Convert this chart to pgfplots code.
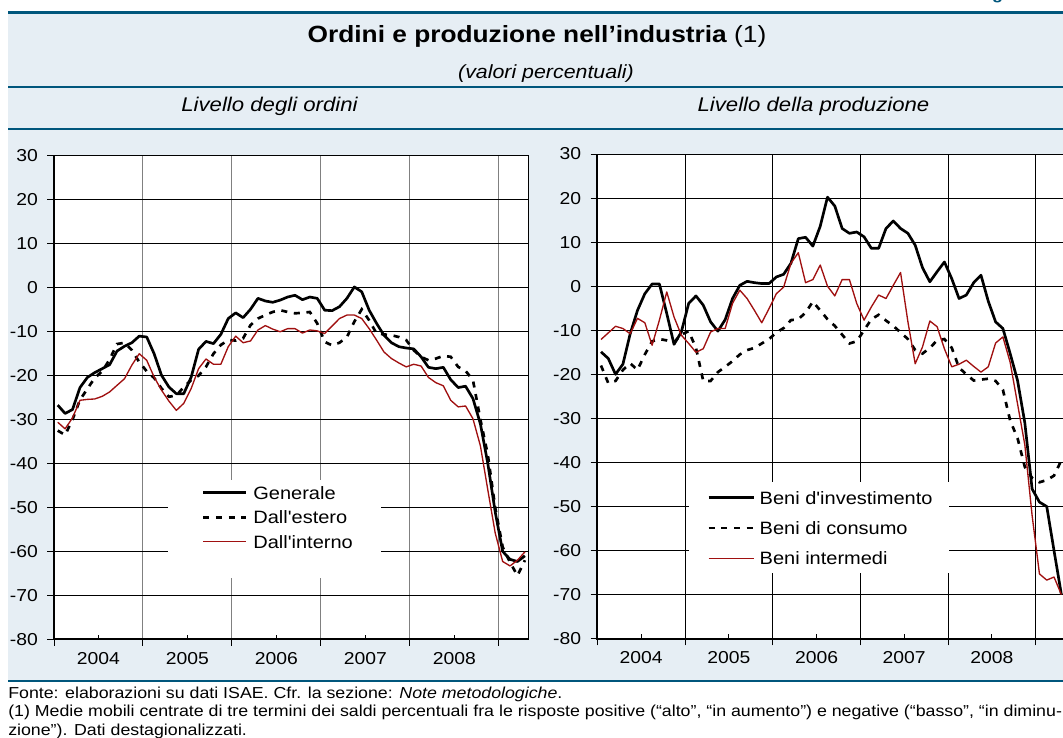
\documentclass[border=0pt]{standalone}
\usepackage{fontspec}
\setmainfont{Liberation Sans}
\usepackage{pgfplots}
\pgfplotsset{compat=1.18}
\usepackage{pgfplotstable}
\definecolor{tealb}{RGB}{0,86,124}
\definecolor{bgblue}{RGB}{230,238,244}
\definecolor{dred}{RGB}{160,16,16}
\newcommand{\hs}[1]{\scalebox{1.12}[1]{#1}}
\newcommand{\fs}[1]{\fontsize{#1}{#1}\selectfont}

\pgfplotstableread{
x g e d
2004.042 -26.7 -32.5 -30.6
2004.125 -28.6 -33.5 -32.1
2004.208 -27.7 -30.0 -29.6
2004.292 -22.7 -25.5 -25.6
2004.375 -20.4 -23.0 -25.4
2004.458 -19.3 -20.5 -25.3
2004.542 -18.4 -19.0 -24.7
2004.625 -17.5 -16.3 -23.7
2004.708 -14.4 -12.8 -22.2
2004.792 -13.3 -12.5 -20.7
2004.875 -12.5 -14.2 -17.6
2004.958 -11.0 -16.9 -15.0
2005.042 -11.2 -19.0 -16.5
2005.125 -15.0 -20.5 -20.3
2005.208 -19.9 -22.9 -23.3
2005.292 -22.6 -24.8 -25.8
2005.375 -24.1 -24.5 -27.9
2005.458 -24.1 -22.6 -26.3
2005.542 -20.3 -21.0 -22.9
2005.625 -14.0 -20.0 -18.4
2005.708 -12.2 -18.0 -16.2
2005.792 -12.7 -15.0 -17.4
2005.875 -10.6 -13.0 -17.4
2005.958 -7.0 -11.9 -13.4
2006.042 -5.7 -12.0 -11.0
2006.125 -6.8 -11.5 -12.5
2006.208 -4.9 -8.5 -12.1
2006.292 -2.4 -7.0 -9.6
2006.375 -3.0 -6.2 -8.6
2006.458 -3.3 -5.5 -9.4
2006.542 -2.8 -5.1 -10.0
2006.625 -2.1 -5.5 -9.3
2006.708 -1.7 -5.8 -9.3
2006.792 -2.7 -5.7 -10.3
2006.875 -2.1 -5.5 -9.6
2006.958 -2.4 -8.1 -9.8
2007.042 -5.1 -12.3 -10.4
2007.125 -5.2 -13.1 -8.7
2007.208 -4.3 -12.5 -7.0
2007.292 -2.4 -11.2 -6.2
2007.375 0.2 -7.7 -6.2
2007.458 -0.9 -4.9 -7.0
2007.542 -5.1 -7.4 -9.3
2007.625 -8.1 -10.4 -11.9
2007.708 -10.8 -10.6 -14.6
2007.792 -12.5 -10.8 -16.1
2007.875 -13.4 -11.2 -17.1
2007.958 -13.7 -11.9 -18.0
2008.042 -13.9 -14.2 -17.4
2008.125 -15.7 -15.7 -17.8
2008.208 -18.1 -16.5 -20.4
2008.292 -18.4 -16.1 -21.6
2008.375 -18.1 -15.5 -22.3
2008.458 -20.9 -15.7 -25.6
2008.542 -22.7 -18.0 -27.1
2008.625 -22.4 -18.9 -26.9
2008.708 -25.2 -21.0 -29.8
2008.792 -31.0 -30.0 -36.0
2008.875 -40.0 -38.0 -46.0
2008.958 -51.0 -50.0 -55.8
2009.042 -60.0 -59.0 -62.3
2009.125 -61.8 -62.5 -63.3
2009.208 -62.3 -65.5 -62.0
2009.292 -61.0 -62.0 -60.1
}\tabordini

\pgfplotstableread{
x inv cons int
2004.042 -14.9 -18.0 -12.1
2004.125 -16.4 -22.0 -10.6
2004.208 -20.0 -21.5 -9.1
2004.292 -17.7 -19.0 -9.6
2004.375 -10.8 -17.5 -10.8
2004.458 -5.5 -19.0 -7.3
2004.542 -1.7 -15.5 -8.3
2004.625 0.5 -12.5 -13.4
2004.708 0.5 -12.0 -7.7
2004.792 -6.2 -12.3 -1.3
2004.875 -13.2 -12.7 -7.0
2004.958 -10.4 -11.0 -11.1
2005.042 -3.9 -10.2 -13.0
2005.125 -2.2 -14.0 -15.0
2005.208 -4.3 -21.5 -14.2
2005.292 -8.1 -21.5 -10.4
2005.375 -10.2 -19.5 -9.6
2005.458 -7.6 -18.3 -9.6
2005.542 -2.8 -17.0 -3.9
2005.625 0.2 -15.5 -0.9
2005.708 1.1 -14.5 -2.8
2005.792 0.8 -14.0 -5.5
2005.875 0.6 -13.0 -8.3
2005.958 0.6 -12.0 -5.1
2006.042 2.1 -10.5 -1.7
2006.125 2.7 -9.5 -0.2
2006.208 5.2 -7.7 5.2
2006.292 10.8 -7.5 7.6
2006.375 11.1 -6.0 0.8
2006.458 9.1 -3.5 1.5
2006.542 13.6 -5.5 4.8
2006.625 20.2 -7.5 0.0
2006.708 18.2 -9.0 -2.2
2006.792 13.1 -11.0 1.5
2006.875 12.0 -13.0 1.5
2006.958 12.3 -12.5 -3.9
2007.042 11.2 -10.0 -7.7
2007.125 8.6 -7.5 -4.7
2007.208 8.6 -6.5 -2.0
2007.292 13.1 -7.8 -2.8
2007.375 14.8 -9.0 0.2
2007.458 13.1 -10.5 3.1
2007.542 12.0 -12.0 -8.1
2007.625 9.3 -14.5 -17.6
2007.708 4.2 -15.3 -13.8
2007.792 1.0 -14.0 -7.9
2007.875 3.3 -12.3 -9.2
2007.958 5.5 -12.0 -14.2
2008.042 1.7 -14.0 -18.3
2008.125 -2.8 -18.5 -17.7
2008.208 -2.0 -20.0 -16.8
2008.292 0.8 -21.4 -18.2
2008.375 2.5 -21.2 -19.5
2008.458 -3.4 -21.0 -18.3
2008.542 -8.1 -21.5 -12.9
2008.625 -9.6 -23.5 -11.5
2008.708 -15.3 -30.5 -17.3
2008.792 -21.4 -34.5 -26.7
2008.875 -31.0 -41.0 -36.0
2008.958 -46.0 -43.5 -52.0
2009.042 -49.0 -44.5 -65.3
2009.125 -50.0 -44.0 -66.7
2009.208 -60.0 -43.0 -66.0
2009.292 -70.0 -39.5 -70.0
}\tabprod

\pgfplotsset{
  panel/.style={
    anchor=south west,
    scale only axis,
    xmin=2004, xmax=2009.3333, ymin=-80, ymax=30,
    clip=false,
    axis background/.style={fill=white},
    axis line style={black, line width=0.75pt},
    tick align=outside, major tick length=5pt,
    tick style={black, line width=0.75pt},
    xtick={2004,2005,2006,2007,2008,2009}, xticklabels={},
    extra x ticks={2004.5,2005.5,2006.5,2007.5,2008.5},
    extra x tick labels={\hs{2004},\hs{2005},\hs{2006},\hs{2007},\hs{2008}},
    extra x tick style={tick align=inside, major tick length=3.3pt, grid=none},
    ytick={-80,-70,-60,-50,-40,-30,-20,-10,0,10,20,30},
    yticklabels={\hs{-80},\hs{-70},\hs{-60},\hs{-50},\hs{-40},\hs{-30},\hs{-20},\hs{-10},\hs{0},\hs{10},\hs{20},\hs{30}},
    xtick pos=bottom, ytick pos=left,
    xmajorgrids, ymajorgrids,
    y grid style={black, line width=0.75pt},
    ticklabel style={font=\fs{12.95}},
    yticklabel style={inner sep=0pt, xshift=-7pt},
    xticklabel style={inner sep=0pt, yshift=-9.5pt},
    legend cell align=left,
    legend style={draw=none, fill=none, inner sep=0pt, outer sep=0pt,
      anchor=north west, font=\fs{13.4},
      nodes={inner sep=0pt, text height=11pt, text depth=1.4pt}},
  }
}

\begin{document}
\begin{tikzpicture}
\useasboundingbox (0,0) rectangle (797.25pt,-553.5pt);
\begin{scope}[x=0.75pt,y=-0.75pt]
\fill[bgblue] (8,14) rectangle (1063,680);
\draw[tealb, line width=2.25pt] (8,13) -- (1063,13);
\draw[tealb, line width=2pt] (8,87) -- (1063,87);
\draw[tealb, line width=2pt] (8,129) -- (1063,129);
\draw[tealb, line width=2pt] (8,681) -- (1063,681);
\node[anchor=base west, inner sep=0pt, text=tealb, font=\fs{12}\bfseries] at (976,-0.2) {\hs{Figura 10}};
\node[anchor=base, inner sep=0pt, font=\fs{17.6}] at (537,42.5) {\hs{\textbf{Ordini e produzione nell’industria} (1)}};
\node[anchor=base, inner sep=0pt, font=\fs{14.3}\itshape] at (546,79) {\hs{(valori percentuali)}};
\node[anchor=base, inner sep=0pt, font=\fs{14.85}\itshape] at (269.5,112) {\hs{Livello degli ordini}};
\node[anchor=base, inner sep=0pt, font=\fs{14.85}\itshape] at (813.5,112) {\hs{Livello della produzione}};
\node[anchor=base west, inner sep=0pt, font=\fs{11.9}] at (8,698) {\hs{Fonte: elaborazioni su dati ISAE. Cfr. la sezione: \textit{Note metodologiche}.}};
\node[anchor=base west, inner sep=0pt, font=\fs{11.9}] at (8,716.5) {\hs{(1) Medie mobili centrate di tre termini dei saldi percentuali fra le risposte positive (“alto”, “in aumento”) e negative (“basso”, “in diminu-}};
\node[anchor=base west, inner sep=0pt, font=\fs{11.9}] at (8,735) {\hs{zione”). Dati destagionalizzati.}};
\end{scope}

\begin{axis}[panel,
  at={(40.5pt,-479.475pt)}, width=355.95pt, height=362.475pt,
  x grid style={black!50, line width=0.75pt},
  legend style={at={(0.3118,0.3205)}, row sep=6pt},
  legend image code/.code={\draw[#1] (0pt,0pt) -- (32.25pt,0pt); \path (36.55pt,0pt);},
]
\fill[white] (rel axis cs:0.2402,0.1275) rectangle (rel axis cs:0.690,0.3296);
\addplot[black, line width=2pt, line join=round] table[x=x,y=g]{\tabordini};
\addlegendentry{\hs{Generale}}
\addplot[black, line width=2pt, dash pattern=on 4.5pt off 5pt] table[x=x,y=e]{\tabordini};
\addlegendentry{\hs{Dall\textquotesingle estero}}
\addplot[dred, line width=1pt, line join=round] table[x=x,y=d]{\tabordini};
\addlegendentry{\hs{Dall\textquotesingle interno}}
\draw[black, line width=1.5pt] (rel axis cs:0,1) -- (rel axis cs:0,0) -- (rel axis cs:1,0);
\end{axis}

\begin{axis}[panel,
  at={(447.975pt,-479.025pt)}, width=350.775pt, height=363.525pt,
  x grid style={black, line width=0.75pt},
  legend style={at={(0.2354,0.308)}, row sep=10.3pt},
  legend image code/.code={\draw[#1] (0pt,0pt) -- (33.9pt,0pt); \path (37.2pt,0pt);},
]
\fill[white] (rel axis cs:0.1954,0.135) rectangle (rel axis cs:0.752,0.324);
\addplot[black, line width=2pt, line join=round] table[x=x,y=inv]{\tabprod};
\addlegendentry{\hs{Beni d\textquotesingle investimento}}
\addplot[black, line width=2pt, dash pattern=on 4.5pt off 5pt] table[x=x,y=cons]{\tabprod};
\addlegendentry{\hs{Beni di consumo}}
\addplot[dred, line width=1pt, line join=round] table[x=x,y=int]{\tabprod};
\addlegendentry{\hs{Beni intermedi}}
\draw[black, line width=1.5pt] (rel axis cs:0,1) -- (rel axis cs:0,0) -- (rel axis cs:1,0);
\end{axis}
\end{tikzpicture}
\end{document}
